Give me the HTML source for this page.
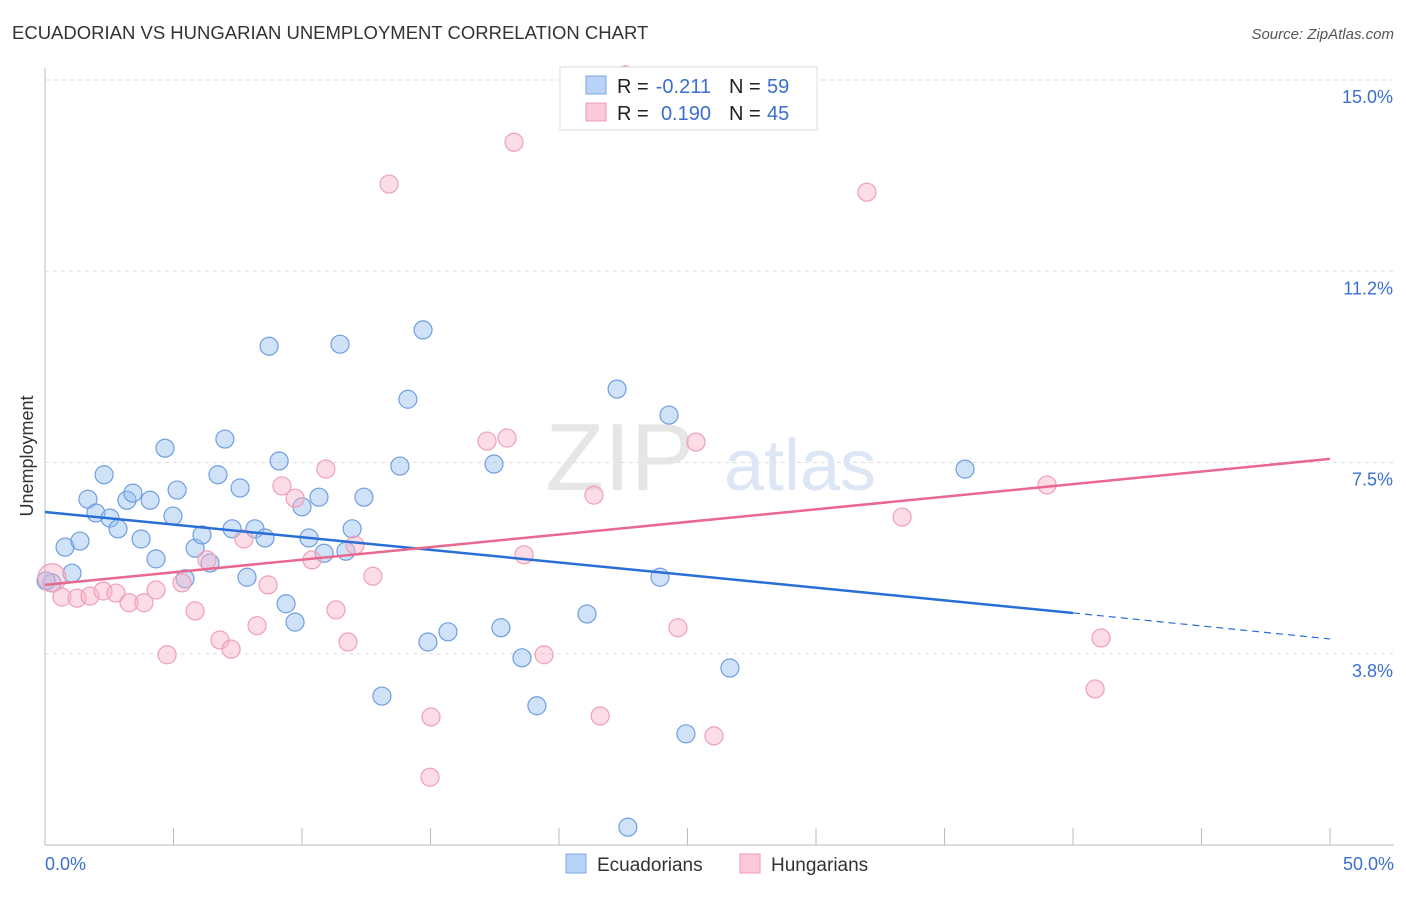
<!DOCTYPE html>
<html><head><meta charset="utf-8"><style>
body{margin:0;background:#fff;font-family:"Liberation Sans",sans-serif;}
svg text{font-family:"Liberation Sans",sans-serif;}
</style></head><body>
<svg id="chart" width="1406" height="892">
<text x="12" y="39" font-size="18.5" fill="#333">ECUADORIAN VS HUNGARIAN UNEMPLOYMENT CORRELATION CHART</text>
<text x="1394" y="39" font-size="15" fill="#555" font-style="italic" text-anchor="end">Source: ZipAtlas.com</text>
<g id="grid"></g>
<text x="620" y="490" font-size="96" fill="#e6e6e6" font-family="Liberation Serif" text-anchor="middle">ZIP</text>
<text x="800" y="490" font-size="72" fill="#dce6f5" text-anchor="middle">atlas</text>
<g id="marks"></g>
<text transform="translate(33,456) rotate(-90)" font-size="18" fill="#333" text-anchor="middle">Unemployment</text>
<g>
<rect x="560" y="67" width="257" height="63" fill="#fff" stroke="#ddd"/>
<rect x="586" y="76" width="20" height="18" fill="#b8d3f5" stroke="#7aa6e6"/>
<rect x="586" y="103" width="20" height="18" fill="#fbc9d8" stroke="#ee9ab4"/>
<text x="617" y="93" font-size="20" fill="#222">R =</text>
<text x="711" y="93" font-size="20" fill="#3a6fd0" text-anchor="end">-0.211</text>
<text x="729" y="93" font-size="20" fill="#222">N =</text>
<text x="767" y="93" font-size="20" fill="#3a6fd0">59</text>
<text x="617" y="120" font-size="20" fill="#222">R =</text>
<text x="711" y="120" font-size="20" fill="#3a6fd0" text-anchor="end">0.190</text>
<text x="729" y="120" font-size="20" fill="#222">N =</text>
<text x="767" y="120" font-size="20" fill="#3a6fd0">45</text>
</g>
<g>
<rect x="566" y="854" width="20" height="19" fill="#b8d3f5" stroke="#7aa6e6"/>
<text x="597" y="871" font-size="19" fill="#333">Ecuadorians</text>
<rect x="740" y="854" width="20" height="19" fill="#fbc9d8" stroke="#ee9ab4"/>
<text x="771" y="871" font-size="19" fill="#333">Hungarians</text>
</g>
</svg>
<script>
const yTicks=[15.0,11.25,7.5,3.75];
const yTickLabels=["15.0%","11.2%","7.5%","3.8%"];
const xTickLabels=["0.0%","50.0%"];
const blueX=[0.27,0.78,1.05,1.36,1.67,1.98,2.30,2.53,2.84,3.19,3.42,3.74,4.09,4.32,4.67,4.98,5.14,5.45,5.84,6.11,6.42,6.73,7.00,7.28,7.59,7.86,8.17,8.56,8.72,9.11,9.38,9.73,10.00,10.27,10.66,10.86,11.48,11.71,11.95,12.41,13.11,13.81,14.12,14.71,14.90,15.68,17.47,17.74,18.56,19.14,21.09,22.26,22.68,23.93,24.28,24.94,26.65,35.80,0.04];
const blueY=[5.14,5.84,5.33,5.96,6.78,6.51,7.26,6.41,6.20,6.76,6.90,6.00,6.76,5.61,7.78,6.45,6.96,5.22,5.82,6.08,5.53,7.26,7.96,6.20,7.00,5.25,6.20,6.02,9.78,7.53,4.73,4.37,6.63,6.02,6.82,5.72,9.82,5.76,6.20,6.82,2.92,7.43,8.74,10.10,3.98,4.18,7.47,4.26,3.67,2.73,4.53,8.94,0.35,5.25,8.43,2.18,3.47,7.37,5.18];
const pinkX=[0.27,0.66,1.25,1.75,2.26,2.76,3.27,3.85,4.32,4.75,5.33,5.84,6.30,6.81,7.24,7.74,8.25,8.68,9.22,9.73,10.39,10.93,11.32,11.79,12.06,12.76,13.39,15.02,14.98,17.20,17.98,18.25,18.64,19.42,21.36,21.60,22.57,24.63,25.33,26.03,31.98,33.35,38.99,40.86,41.09];
const pinkY=[5.24,4.86,4.84,4.88,4.98,4.94,4.75,4.75,5.00,3.73,5.14,4.59,5.59,4.02,3.84,6.00,4.30,5.10,7.04,6.80,5.59,7.37,4.61,3.98,5.88,5.27,12.96,2.51,1.33,7.92,7.98,13.78,5.69,3.73,6.86,2.53,15.1,4.26,7.90,2.14,12.80,6.43,7.06,3.06,4.06];
const blueTrend=[6.53,4.55,4.04]; // y at x=0, 40, 50
const pinkTrend=[5.10,7.57];      // y at x=0, 50
const X=v=>45+v*25.7, Y=v=>845-v*51.0;
const NS="http://www.w3.org/2000/svg";
const grid=document.getElementById('grid'), marks=document.getElementById('marks');
function mk(p,tag,a){const e=document.createElementNS(NS,tag);for(const k in a)e.setAttribute(k,a[k]);p.appendChild(e);return e;}
let ax=mk(grid,'line',{x1:45,y1:68,x2:45,y2:845,stroke:'#bbb'});


let bx=mk(grid,'line',{x1:45,y1:845,x2:1394,y2:845,stroke:'#bbb'});


yTicks.forEach((t,i)=>{
 let g=mk(grid,'line',{x1:45,x2:1394,y1:Y(t),y2:Y(t),stroke:'#ddd','stroke-dasharray':'4,4'});
 
 
 let tx=mk(grid,'text',{x:1393,y:Y(t)+23,'font-size':18,fill:'#3a6fd0','text-anchor':'end'});
 tx.textContent=yTickLabels[i];
 
 
});
for(let i=0;i<=10;i++){
 let t=mk(grid,'line',{x1:X(i*5),x2:X(i*5),y1:828,y2:845,stroke:'#bbb'});
 
 
}
[[0,'start',45],[50,'end',1394]].forEach((d,i)=>{
 let tx=mk(grid,'text',{x:d[2],y:870,'font-size':18,fill:'#3a6fd0','text-anchor':d[1]});
 tx.textContent=xTickLabels[i];
 
 
});
blueX.forEach((x,i)=>{
 let c=mk(marks,'circle',{cx:X(x),cy:Y(blueY[i]),r:9,fill:'rgba(150,190,240,0.45)',stroke:'#6f9fe0','stroke-width':1.2});
 
 
});
pinkX.forEach((x,i)=>{
 let c=mk(marks,'circle',{cx:X(x),cy:Y(pinkY[i]),r:i==0?14:9,fill:'rgba(248,180,200,0.45)',stroke:'#ef9fb8','stroke-width':1.2});
 
 
});
let b1=mk(marks,'line',{x1:X(0),y1:Y(blueTrend[0]),x2:X(40),y2:Y(blueTrend[1]),stroke:'#2a6fd6','stroke-width':2.5});


let b2=mk(marks,'line',{x1:X(40),y1:Y(blueTrend[1]),x2:X(50),y2:Y(blueTrend[2]),stroke:'#2a6fd6','stroke-width':1.2,'stroke-dasharray':'7,5'});


let p1=mk(marks,'line',{x1:X(0),y1:Y(pinkTrend[0]),x2:X(50),y2:Y(pinkTrend[1]),stroke:'#e8688f','stroke-width':2.5});


</script>
</body></html>
